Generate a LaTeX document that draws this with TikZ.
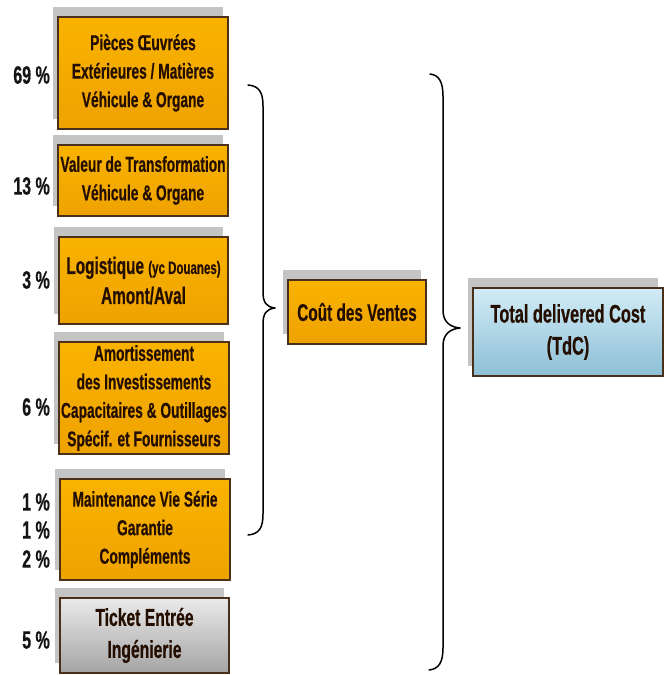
\documentclass[tikz,border=0pt]{standalone}
\usepackage{fontspec}
\setmainfont{Liberation Sans}[FakeStretch=0.64, BoldFeatures={FakeStretch=0.64, FakeBold=0.5}]
\usetikzlibrary{shadows}
\definecolor{orTop}{HTML}{F9B300}
\definecolor{orBot}{HTML}{EEA200}
\definecolor{grTop}{HTML}{EAEAEA}
\definecolor{grBot}{HTML}{A4A4A4}
\definecolor{blTop}{HTML}{D2ECF6}
\definecolor{blBot}{HTML}{8DBFD6}
\definecolor{shd}{HTML}{C4C4C4}
\definecolor{txt}{HTML}{240E00}
\definecolor{edge}{HTML}{4A3018}
\begin{document}
\begin{tikzpicture}[x=1pt,y=-1pt,
  boxbase/.style={draw=edge, line width=1.1pt, inner sep=0pt, align=center,
    text=txt, font=\bfseries\fontsize{21.5}{28.5}\selectfont,
    general shadow={fill=shd, shadow xshift=-5pt, shadow yshift=10pt}},
  orbox/.style={boxbase, top color=orTop, bottom color=orBot},
  grbox/.style={boxbase, top color=grTop, bottom color=grBot},
  blbox/.style={boxbase, top color=blTop, bottom color=blBot},
  pct/.style={anchor=east, inner sep=0pt, text=black!92, font=\bfseries\fontsize{25}{28}\selectfont},
  bracepath/.style={draw=black, line width=1.5pt, line cap=round, line join=round}
]
\useasboundingbox (0,0) rectangle (670,675);

% left column boxes
\node[orbox, minimum width=170pt, minimum height=112pt] (b1) at (143,73)
  {Pièces Œuvrées\\Extérieures / Matières\\Véhicule \& Organe};
\node[orbox, minimum width=170pt, minimum height=71pt] (b2) at (143,180.5)
  {Valeur de Transformation\\Véhicule \& Organe};
\node[orbox, minimum width=169pt, minimum height=87pt, font=\bfseries\fontsize{24}{30}\selectfont] (b3) at (143.5,280.5)
  {Logistique {\fontsize{18}{30}\selectfont (yc Douanes)}\\Amont/Aval};
\node[orbox, minimum width=170pt, minimum height=112pt] (b4) at (144,398)
  {Amortissement\\des Investissements\\Capacitaires \& Outillages\\Spécif. et Fournisseurs};
\node[orbox, minimum width=170pt, minimum height=101pt] (b5) at (145,529.5)
  {Maintenance Vie Série\\Garantie\\Compléments};
\node[grbox, minimum width=169pt, minimum height=75pt, font=\bfseries\fontsize{24.5}{32}\selectfont] (b6) at (144.5,635.5)
  {Ticket Entrée\\Ingénierie};

% percentages
\node[pct] (p1) at (50,75) {69 \%};
\node[pct] (p2) at (50,186) {13 \%};
\node[pct] (p3) at (50,280) {3 \%};
\node[pct] (p4) at (50,407) {6 \%};
\node[pct] (p5a) at (50,502) {1 \%};
\node[pct] (p5b) at (50,530) {1 \%};
\node[pct] (p5c) at (50,559) {2 \%};
\node[pct] (p6) at (50,640) {5 \%};

% middle and right boxes
\node[orbox, minimum width=138pt, minimum height=64pt, font=\bfseries\fontsize{24}{29}\selectfont] (cdv) at (357,312)
  {Coût des Ventes};
\node[blbox, minimum width=190pt, minimum height=88pt, font=\bfseries\fontsize{25.5}{32}\selectfont] (tdc) at (568,332)
  {Total delivered Cost\\(TdC)};

% brace 1
\coordinate (a1) at (248,85);
\coordinate (a2) at (275,308);
\coordinate (a3) at (248,535);
\path[bracepath] (a1) .. controls (259,86) and (263,92) .. (263,106)
  -- (263,292) .. controls (263,302) and (266,307) .. (a2)
  .. controls (266,309) and (263,314) .. (263,324)
  -- (263,514) .. controls (263,528) and (259,534) .. (a3);

% brace 2
\coordinate (c1) at (430,74);
\coordinate (c2) at (460,328);
\coordinate (c3) at (429,670);
\path[bracepath] (c1) .. controls (439,75) and (443,82) .. (443,96)
  -- (443,310) .. controls (443,321) and (449,327) .. (c2)
  .. controls (449,329) and (443,335) .. (443,346)
  -- (443,648) .. controls (443,662) and (439,669) .. (c3);
\end{tikzpicture}
\end{document}
